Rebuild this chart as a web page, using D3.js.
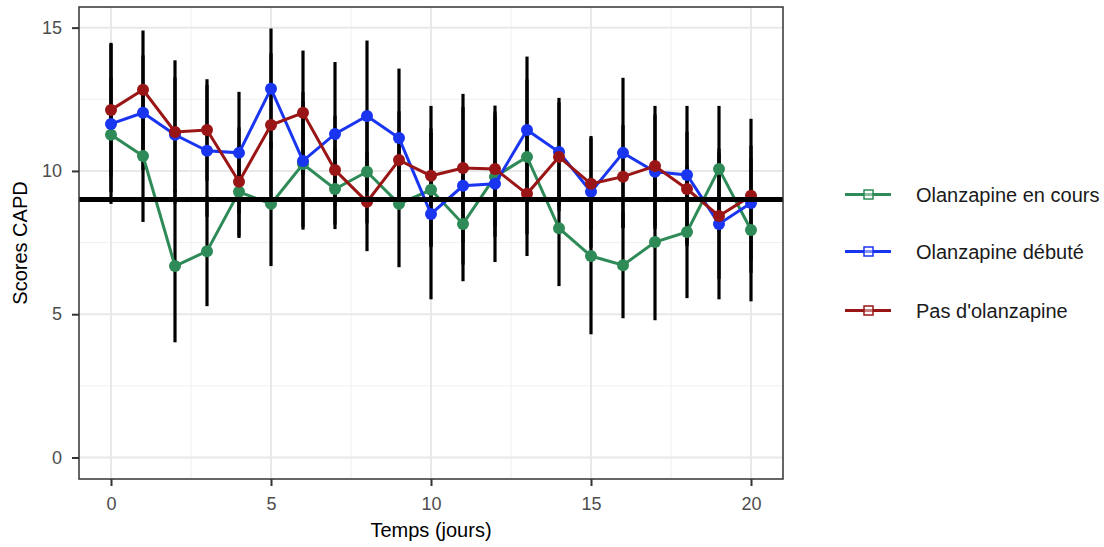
<!DOCTYPE html>
<html>
<head>
<meta charset="utf-8">
<script src="https://cdn.jsdelivr.net/npm/d3@7"></script>
<style>
  body { margin: 0; background: #fff; }
  text { font-family: "Liberation Sans", Arial, sans-serif; }
</style>
</head>
<body>
<svg id="chart" width="1104" height="547"></svg>
<script>
// days
var days = [0,1,2,3,4,5,6,7,8,9,10,11,12,13,14,15,16,17,18,19,20]

// mean scores per group
var enCours = [11.26,10.52,6.68,7.2,9.27,8.85,10.24,9.37,9.97,8.85,9.34,8.15,9.8,10.49,8.0,7.03,6.71,7.52,7.87,10.07,7.94]
var debute  = [11.64,12.03,11.26,10.7,10.63,12.87,10.35,11.29,11.92,11.15,8.5,9.48,9.55,11.43,10.66,9.27,10.63,9.97,9.86,8.15,8.88]
var pasOlz  = [12.13,12.83,11.36,11.43,9.62,11.6,12.03,10.03,8.92,10.38,9.83,10.1,10.07,9.2,10.49,9.55,9.8,10.17,9.37,8.43,9.13]

// standard deviations (error bars)
var sdEnCours = [2.0,2.3,2.66,1.92,1.61,2.17,2.2,1.4,1.8,2.21,2.0,2.0,2.1,2.7,2.02,2.73,1.85,2.73,2.31,2.2,2.49]
var sdDebute  = [2.79,2.0,2.0,2.3,2.13,2.1,2.4,2.51,2.63,2.42,2.98,2.75,2.73,2.56,1.89,1.95,2.62,2.0,2.41,2.63,2.0]
var sdPasOlz  = [2.34,2.07,2.5,1.77,1.9,2.5,2.17,1.9,1.72,1.7,2.44,2.59,2.0,2.17,1.9,1.6,1.8,2.1,2.0,2.2,2.69]

var groups = ["Olanzapine en cours", "Olanzapine débuté", "Pas d'olanzapine"]
var colors = ["#2e8b57", "#1a35f0", "#9a1515"]
var refLine = 9

var xTicks = [0,5,10,15,20]
var yTicks = [0,5,10,15]

var series = [
    { name: groups[0], color: colors[0], mean: enCours, sd: sdEnCours },
    { name: groups[1], color: colors[1], mean: debute, sd: sdDebute },
    { name: groups[2], color: colors[2], mean: pasOlz, sd: sdPasOlz }
]

var svg = d3.select("#chart")
var panel = { left: 79, right: 783, top: 7, bottom: 479 }

var x = d3.scaleLinear().domain([-1, 21]).range([panel.left, panel.right])
var y = d3.scaleLinear().domain([-0.75, 15.72]).range([panel.bottom, panel.top])

// grid
var grid = svg.append("g")
var minorX = [2.5, 7.5, 12.5, 17.5]
var minorY = [2.5, 7.5, 12.5]
grid.selectAll(".mx").data(minorX).enter().append("line")
    .attr("x1", d => x(d)).attr("x2", d => x(d))
    .attr("y1", panel.top).attr("y2", panel.bottom)
    .attr("stroke", "#f0f0f0").attr("stroke-width", 1)
grid.selectAll(".my").data(minorY).enter().append("line")
    .attr("y1", d => y(d)).attr("y2", d => y(d))
    .attr("x1", panel.left).attr("x2", panel.right)
    .attr("stroke", "#f0f0f0").attr("stroke-width", 1)
grid.selectAll(".gx").data(xTicks).enter().append("line")
    .attr("x1", d => x(d)).attr("x2", d => x(d))
    .attr("y1", panel.top).attr("y2", panel.bottom)
    .attr("stroke", "#e8e8e8").attr("stroke-width", 2)
grid.selectAll(".gy").data(yTicks).enter().append("line")
    .attr("y1", d => y(d)).attr("y2", d => y(d))
    .attr("x1", panel.left).attr("x2", panel.right)
    .attr("stroke", "#e8e8e8").attr("stroke-width", 2)

// error bars (all black)
series.forEach(function (s) {
    svg.append("g").selectAll("line").data(days).enter().append("line")
        .attr("x1", d => x(d)).attr("x2", d => x(d))
        .attr("y1", (d, i) => y(s.mean[i] - s.sd[i]))
        .attr("y2", (d, i) => y(s.mean[i] + s.sd[i]))
        .attr("stroke", "#000").attr("stroke-width", 3.2)
})

// lines + points
var line = d3.line().x((d, i) => x(days[i])).y(d => y(d))
series.forEach(function (s) {
    svg.append("path").datum(s.mean)
        .attr("d", line)
        .attr("fill", "none")
        .attr("stroke", s.color)
        .attr("stroke-width", 3)
    svg.append("g").selectAll("circle").data(s.mean).enter().append("circle")
        .attr("cx", (d, i) => x(days[i]))
        .attr("cy", d => y(d))
        .attr("r", 6)
        .attr("fill", s.color)
})

// reference line
svg.append("line")
    .attr("x1", panel.left).attr("x2", panel.right)
    .attr("y1", y(refLine)).attr("y2", y(refLine))
    .attr("stroke", "#000").attr("stroke-width", 5)

// panel border
svg.append("rect")
    .attr("x", panel.left).attr("y", panel.top)
    .attr("width", panel.right - panel.left)
    .attr("height", panel.bottom - panel.top)
    .attr("fill", "none").attr("stroke", "#333").attr("stroke-width", 1.5)

// axes
var xAxis = svg.append("g")
    .attr("transform", "translate(0," + panel.bottom + ")")
    .call(d3.axisBottom(x).tickValues(xTicks).tickSize(7).tickPadding(11))
var yAxis = svg.append("g")
    .attr("transform", "translate(" + panel.left + ",0)")
    .call(d3.axisLeft(y).tickValues(yTicks).tickSize(7).tickPadding(10))
;[xAxis, yAxis].forEach(function (a) {
    a.select(".domain").remove()
    a.selectAll(".tick line").attr("stroke", "#333").attr("stroke-width", 2)
    a.selectAll(".tick text").attr("fill", "#4d4d4d")
        .style("font-size", "18px").style("font-family", "Liberation Sans, Arial, sans-serif")
})

// axis titles
svg.append("text")
    .attr("x", (panel.left + panel.right) / 2)
    .attr("y", 537)
    .attr("text-anchor", "middle")
    .style("font-size", "20px")
    .text("Temps (jours)")
svg.append("text")
    .attr("transform", "translate(27," + ((panel.top + panel.bottom) / 2) + ") rotate(-90)")
    .attr("text-anchor", "middle")
    .style("font-size", "20px")
    .text("Scores CAPD")

// legend
var legend = svg.append("g")
var legY = [194.5, 251.5, 310.5]
series.forEach(function (s, i) {
    var g = legend.append("g").attr("transform", "translate(0," + legY[i] + ")")
    g.append("line").attr("x1", 845).attr("x2", 891).attr("y1", 0).attr("y2", 0)
        .attr("stroke", s.color).attr("stroke-width", 3)
    g.append("rect").attr("x", 864).attr("y", -4.5).attr("width", 9).attr("height", 9)
        .attr("fill", "#fff").attr("fill-opacity", 0.45)
        .attr("stroke", s.color).attr("stroke-width", 1.5)
    g.append("text").attr("x", 916).attr("y", 7.5)
        .style("font-size", "20px").attr("fill", "#1a1a1a")
        .text(s.name)
})
</script>
</body>
</html>
